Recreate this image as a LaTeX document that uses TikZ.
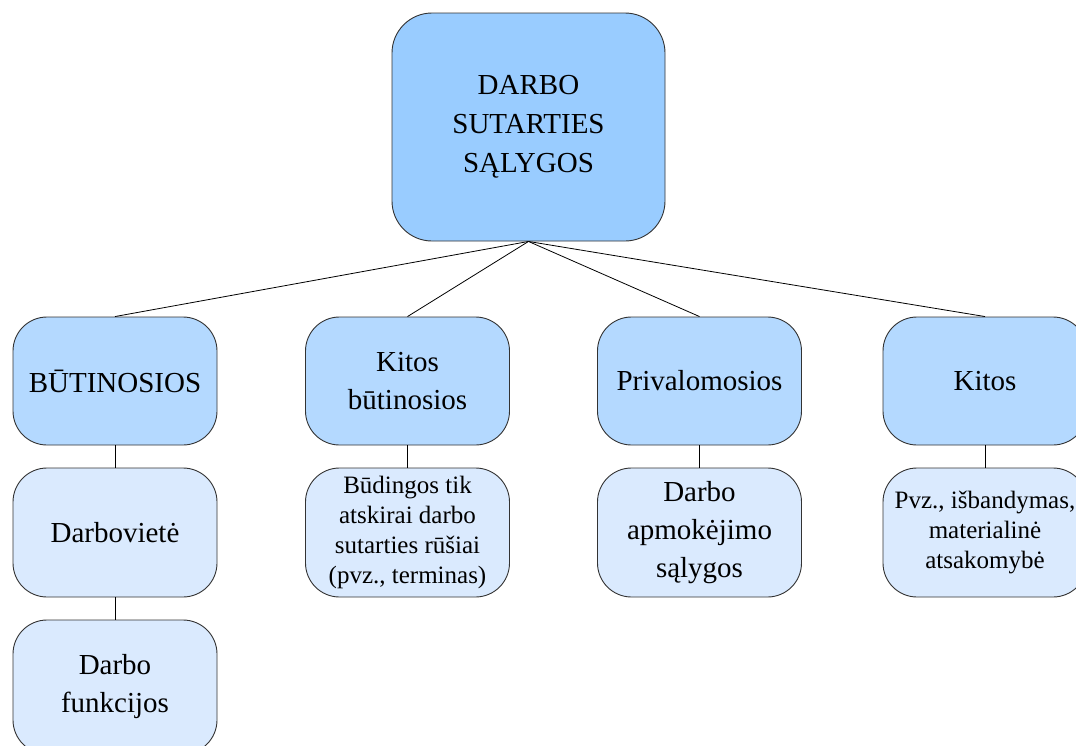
\documentclass[tikz,border=0pt]{standalone}
\usepackage{fontspec}
\setmainfont{Liberation Serif}
\definecolor{topfill}{HTML}{99CCFF}
\definecolor{midfill}{HTML}{B4D9FF}
\definecolor{lowfill}{HTML}{DAEAFE}
\definecolor{edge}{HTML}{333333}
\tikzset{
  box/.style={draw=edge, line width=0.9pt, rounded corners=34pt, align=center, inner sep=2pt, text=black},
  topbox/.style={box, fill=topfill, minimum width=273pt, minimum height=228pt, rounded corners=40pt, font=\fontsize{29}{39}\selectfont},
  midbox/.style={box, fill=midfill, minimum width=204pt, minimum height=128pt, font=\fontsize{29}{38}\selectfont},
  lowbox/.style={box, fill=lowfill, minimum width=204pt, minimum height=129pt, font=\fontsize{29}{38}\selectfont},
  smallbox/.style={lowbox, font=\fontsize{25}{30}\selectfont},
  link/.style={draw=black, line width=0.8pt}
}
\begin{document}
\begin{tikzpicture}[x=1pt,y=-1pt]
\useasboundingbox (0,0) rectangle (1076,745);
\clip (0,0) rectangle (1076,745);
\fill[white] (0,0) rectangle (1076,745);
\node[topbox] (top) at (528.5,127) {DARBO\\SUTARTIES\\SĄLYGOS};
\node[midbox] (b1) at (115,381) {BŪTINOSIOS};
\node[midbox] (b2) at (407.5,381) {Kitos\\būtinosios};
\node[midbox] (b3) at (699.5,381) {Privalomosios};
\node[midbox] (b4) at (985,381) {Kitos};
\node[lowbox] (c1) at (115,532.5) {Darbovietė};
\node[smallbox] (c2) at (407.5,532.5) {Būdingos tik\\atskirai darbo\\sutarties rūšiai\\(pvz., terminas)};
\node[lowbox] (c3) at (699.5,532.5) {Darbo\\apmokėjimo\\sąlygos};
\node[smallbox] (c4) at (985,532.5) {Pvz., išbandymas,\\materialinė\\atsakomybė};
\node[lowbox, minimum height=134pt] (d1) at (115,687) {Darbo\\funkcijos};
\draw[link] (top.south) -- (b1.north);
\draw[link] (top.south) -- (b2.north);
\draw[link] (top.south) -- (b3.north);
\draw[link] (top.south) -- (b4.north);
\draw[link] (b1.south) -- (c1.north);
\draw[link] (b2.south) -- (c2.north);
\draw[link] (b3.south) -- (c3.north);
\draw[link] (b4.south) -- (c4.north);
\draw[link] (c1.south) -- (d1.north);
\end{tikzpicture}
\end{document}
